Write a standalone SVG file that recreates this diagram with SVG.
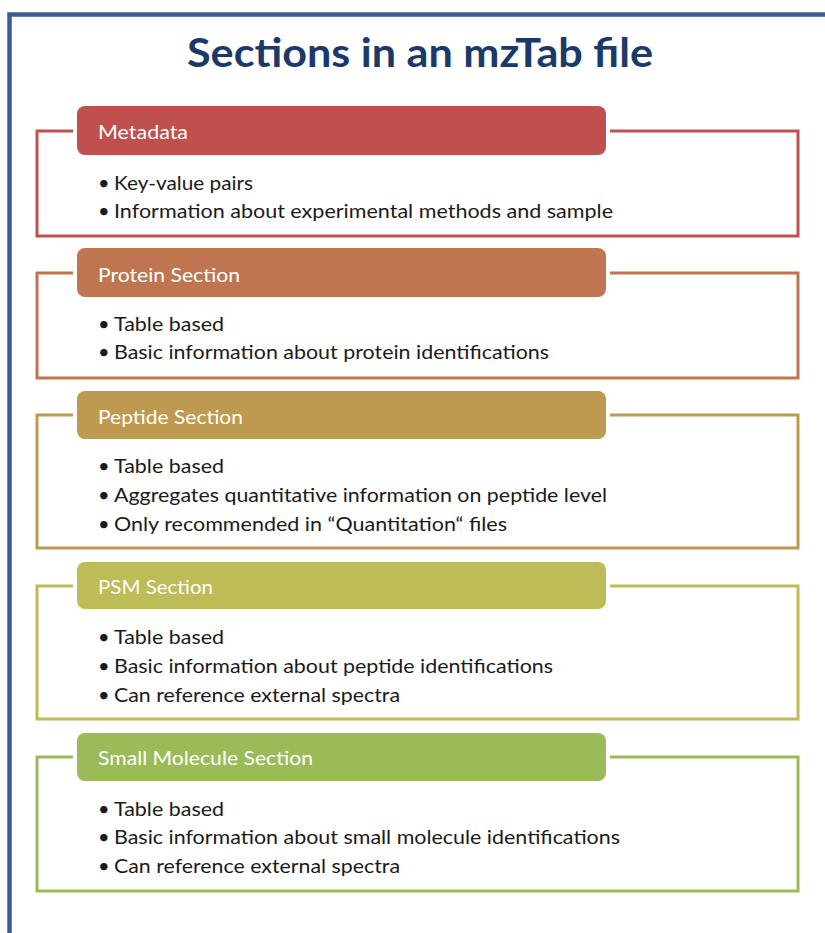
<svg xmlns="http://www.w3.org/2000/svg" width="825" height="933" viewBox="0 0 825 933">
<style>
.frame{fill:none;stroke:#3a5f8f;stroke-width:4.5}
.title{font-family:Lato,"Open Sans","Liberation Sans",sans-serif;font-weight:bold;font-size:41px;fill:#1b3a6a}
.hdr{font-family:Lato,"Open Sans","Liberation Sans",sans-serif;font-size:19px;fill:#ffffff}
.body{font-family:Lato,"Open Sans","Liberation Sans",sans-serif;font-size:20px;fill:#1a1a1a}
.out{fill:none;stroke-width:3}
</style>
<rect x="0" y="0" width="825" height="933" fill="#ffffff"/>
<rect class="frame" x="9.5" y="14.5" width="900" height="1000"/>
<text class="title" x="187" y="67" textLength="466" lengthAdjust="spacingAndGlyphs">Sections in an mzTab file</text>

<g id="connectors">
<path class="out" stroke="#c0504d" d="M73,131 H37 V236 H798 V131 H610"/>
<path class="out" stroke="#bf7550" d="M73,273 H37 V378 H798 V273 H610"/>
<path class="out" stroke="#bd9a4f" d="M73,415 H37 V548 H798 V415 H610"/>
<path class="out" stroke="#bdbc56" d="M73,586 H37 V719 H798 V586 H610"/>
<path class="out" stroke="#9bbb59" d="M73,757 H37 V891 H798 V757 H610"/>
</g>

<g id="metadata">
<rect x="77" y="106" width="529" height="49" rx="8" fill="#c0504d"/>
<text class="hdr" x="98" y="139" textLength="90" lengthAdjust="spacingAndGlyphs">Metadata</text>
<text class="body" x="98" y="190">•</text>
<text class="body" x="114" y="190" textLength="139" lengthAdjust="spacingAndGlyphs">Key-value pairs</text>
<text class="body" x="98" y="218">•</text>
<text class="body" x="114" y="218" textLength="499" lengthAdjust="spacingAndGlyphs">Information about experimental methods and sample</text>
</g>

<g id="protein">
<rect x="77" y="248" width="529" height="49" rx="8" fill="#bf7550"/>
<text class="hdr" x="98" y="282" textLength="142" lengthAdjust="spacingAndGlyphs">Protein Section</text>
<text class="body" x="98" y="331">•</text>
<text class="body" x="114" y="331" textLength="110" lengthAdjust="spacingAndGlyphs">Table based</text>
<text class="body" x="98" y="359">•</text>
<text class="body" x="114" y="359" textLength="435" lengthAdjust="spacingAndGlyphs">Basic information about protein identifications</text>
</g>

<g id="peptide">
<rect x="77" y="391" width="529" height="48" rx="8" fill="#bd9a4f"/>
<text class="hdr" x="98" y="424" textLength="145" lengthAdjust="spacingAndGlyphs">Peptide Section</text>
<text class="body" x="98" y="473">•</text>
<text class="body" x="114" y="473" textLength="110" lengthAdjust="spacingAndGlyphs">Table based</text>
<text class="body" x="98" y="502">•</text>
<text class="body" x="114" y="502" textLength="493" lengthAdjust="spacingAndGlyphs">Aggregates quantitative information on peptide level</text>
<text class="body" x="98" y="531">•</text>
<text class="body" x="114" y="531" textLength="393" lengthAdjust="spacingAndGlyphs">Only recommended in “Quantitation“ files</text>
</g>

<g id="psm">
<rect x="77" y="562" width="529" height="47" rx="8" fill="#bdbc56"/>
<text class="hdr" x="98" y="594" textLength="115" lengthAdjust="spacingAndGlyphs">PSM Section</text>
<text class="body" x="98" y="644">•</text>
<text class="body" x="114" y="644" textLength="110" lengthAdjust="spacingAndGlyphs">Table based</text>
<text class="body" x="98" y="673">•</text>
<text class="body" x="114" y="673" textLength="439" lengthAdjust="spacingAndGlyphs">Basic information about peptide identifications</text>
<text class="body" x="98" y="702">•</text>
<text class="body" x="114" y="702" textLength="286" lengthAdjust="spacingAndGlyphs">Can reference external spectra</text>
</g>

<g id="small-molecule">
<rect x="77" y="733" width="529" height="48" rx="8" fill="#9bbb59"/>
<text class="hdr" x="98" y="765" textLength="215" lengthAdjust="spacingAndGlyphs">Small Molecule Section</text>
<text class="body" x="98" y="816">•</text>
<text class="body" x="114" y="816" textLength="110" lengthAdjust="spacingAndGlyphs">Table based</text>
<text class="body" x="98" y="844">•</text>
<text class="body" x="114" y="844" textLength="506" lengthAdjust="spacingAndGlyphs">Basic information about small molecule identifications</text>
<text class="body" x="98" y="873">•</text>
<text class="body" x="114" y="873" textLength="286" lengthAdjust="spacingAndGlyphs">Can reference external spectra</text>
</g>
</svg>
